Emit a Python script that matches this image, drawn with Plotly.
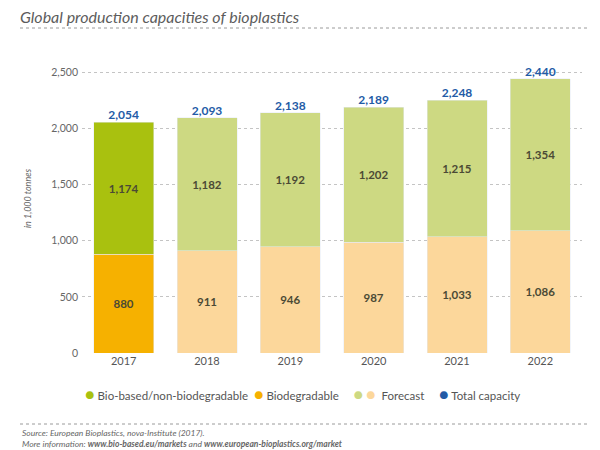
import plotly.graph_objects as go

# data (in 1,000 tonnes)
years = ["2017", "2018", "2019", "2020", "2021", "2022"]
biodegradable = [880, 911, 946, 987, 1033, 1086]
bio_based = [1174, 1182, 1192, 1202, 1215, 1354]
total = [2054, 2093, 2138, 2189, 2248, 2440]
y_ticks = [0, 500, 1000, 1500, 2000, 2500]

# colours: first year is actual, the rest forecast
green, orange = "#a9c10f", "#f6b100"
green_fc, orange_fc = "#cdd982", "#fcd79b"
blue = "#235ba6"
bio_colors = [green] + [green_fc] * (len(years) - 1)
deg_colors = [orange] + [orange_fc] * (len(years) - 1)

# the page puts the figure 8px in from the top-left corner
OFF = 8
W, H = 600 - OFF, 450 - OFF
ML, MR, MT, MB = 82 - OFF, 18, 44 - OFF, 97
pw, ph = W - ML - MR, H - MT - MB


def px_x(x):
    # screen px -> paper x
    return (x - OFF - ML) / pw


def px_y(y):
    # screen px -> paper y
    return (H - MB - (y - OFF)) / ph


font = "Lato, 'Open Sans', sans-serif"
label_col = "#4b4a35"

fig = go.Figure()
fig.add_trace(go.Bar(x=years, y=biodegradable, marker_color=deg_colors,
                     texttemplate="%{y:,.0f}", textposition="inside",
                     insidetextanchor="middle", textangle=0,
                     textfont=dict(color=label_col, size=11.5, weight="bold", family=font),
                     showlegend=False, hoverinfo="skip"))
fig.add_trace(go.Bar(x=years, y=bio_based, marker_color=bio_colors,
                     texttemplate="%{y:,.0f}", textposition="inside",
                     insidetextanchor="middle", textangle=0,
                     textfont=dict(color=label_col, size=11.5, weight="bold", family=font),
                     showlegend=False, hoverinfo="skip"))
fig.add_trace(go.Scatter(x=years, y=total, mode="text",
                         text=[f"{v:,}" for v in total], textposition="top center",
                         textfont=dict(color=blue, size=12, weight="bold", family=font),
                         showlegend=False, hoverinfo="skip"))

# dotted rules under the title and above the footer
fig.add_shape(type="line", xref="paper", yref="paper", x0=px_x(20), x1=px_x(590),
              y0=px_y(28), y1=px_y(28), line=dict(color="#9a9a9a", width=1, dash="dot"))
fig.add_shape(type="line", xref="paper", yref="paper", x0=px_x(20), x1=px_x(590),
              y0=px_y(424), y1=px_y(424), line=dict(color="#9a9a9a", width=1, dash="dot"))

dot = "<span style='font-size:16px;color:{}'>●</span>"
legend_txt = (dot.format(green) + " Bio-based/non-biodegradable  "
              + dot.format(orange) + " Biodegradable     "
              + dot.format(green_fc) + " " + dot.format(orange_fc) + "  Forecast     "
              + dot.format(blue) + " Total capacity")
fig.add_annotation(text=legend_txt, xref="paper", yref="paper", x=px_x(302), y=px_y(393),
                   xanchor="center", yanchor="middle", showarrow=False,
                   font=dict(size=11.5, color="#555555", family=font))

fig.add_annotation(text="Source: European Bioplastics, nova-Institute (2017).<br>"
                        "More information: <b>www.bio-based.eu/markets</b> and "
                        "<b>www.european-bioplastics.org/market</b>",
                   xref="paper", yref="paper", x=px_x(20), y=px_y(438),
                   xanchor="left", yanchor="middle", align="left", showarrow=False,
                   font=dict(size=8.5, color="#666666", family=font, style="italic"))

# title sits as high as the page allows
fig.update_layout(
    width=W, height=H,
    margin=dict(l=ML, r=MR, t=MT, b=MB),
    barmode="stack", bargap=0.28,
    plot_bgcolor="white", paper_bgcolor="white",
    font=dict(family=font, color="#555555"),
    title=dict(text="Global production capacities of bioplastics",
               x=(20 - OFF) / W, xanchor="left", y=1, yanchor="top",
               pad=dict(t=4, l=0),
               font=dict(size=16, color="#5c5c5c", style="italic", family=font)),
)
fig.update_xaxes(showgrid=False, showline=False, ticks="",
                 tickfont=dict(size=11, color="#555555"))
fig.update_yaxes(range=[0, 2750], tickvals=y_ticks, tickformat=",",
                 showgrid=True, gridcolor="#c4c4c4", griddash="dot", gridwidth=1,
                 zeroline=False, showline=False, ticks="", ticklabelstandoff=3,
                 tickfont=dict(size=10.5, color="#666666"),
                 title=dict(text="in 1,000 tonnes", standoff=18,
                            font=dict(size=9, color="#666666", style="italic")))

fig.write_html("out.html")
